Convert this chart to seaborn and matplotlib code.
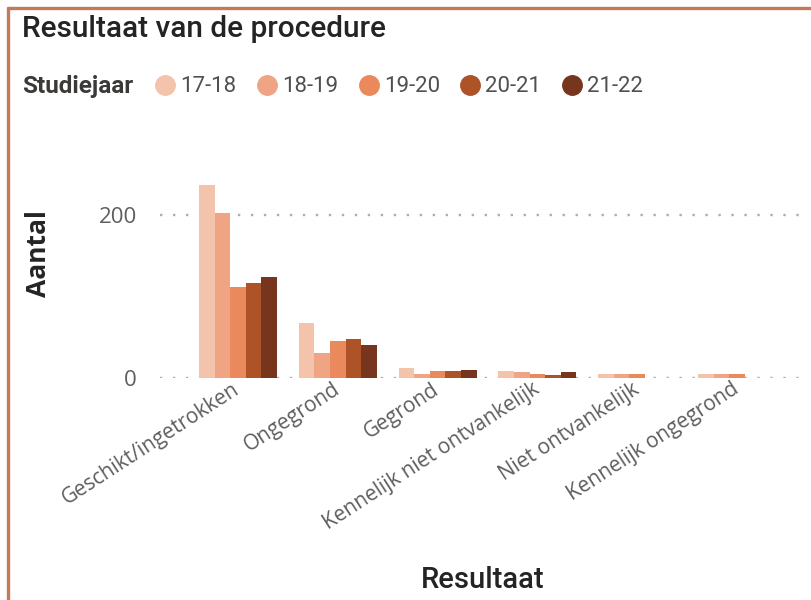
import pandas as pd
import seaborn as sns
import matplotlib.pyplot as plt
import numpy as np
from matplotlib.lines import Line2D

# data
resultaat = ['Geschikt/ingetrokken', 'Ongegrond', 'Gegrond',
             'Kennelijk niet ontvankelijk', 'Niet ontvankelijk', 'Kennelijk ongegrond']
jaren = ['17-18', '18-19', '19-20', '20-21', '21-22']
j1718 = [237, 68, 12, 9, 5, 5]
j1819 = [202, 31, 5, 7, 5, 5]
j1920 = [112, 45, 8, 5, 5, 5]
j2021 = [117, 48, 8, 4, np.nan, np.nan]
j2122 = [124, 41, 10, 7, np.nan, np.nan]
yticks = [0, 200]

kleuren = ['#F4C3AB', '#EFA584', '#E9895C', '#AE5228', '#76351C']

Data = pd.DataFrame({'Resultaat': resultaat * 5,
                     'Studiejaar': np.repeat(jaren, len(resultaat)),
                     'Aantal': j1718 + j1819 + j1920 + j2021 + j2122})
Data = Data.dropna()

sns.set_style('white')
plt.rcParams['font.family'] = ['Open Sans', 'DejaVu Sans']

fig = plt.figure(figsize=(8.11, 6), dpi=100)
ax = fig.add_axes([160 / 811, 1 - 378 / 600, 645 / 811, 248 / 600])

sns.barplot(data=Data, x='Resultaat', y='Aantal', hue='Studiejaar',
            order=resultaat, hue_order=jaren, palette=kleuren, saturation=1,
            width=0.78, gap=0, linewidth=0, errorbar=None, legend=False, ax=ax)

ax.set_xlim(-0.78, 5.68)
ax.set_ylim(0, 248 / 0.815)
ax.set_yticks(yticks)
ax.set_axisbelow(True)
ax.grid(axis='y', color='#B0AEAC', linestyle=(0, (1, 4.5)), linewidth=1.7)
ax.grid(axis='x', visible=False)
for s in ax.spines.values():
    s.set_visible(False)
ax.tick_params(axis='both', length=0)
ax.tick_params(axis='y', labelsize=16, labelcolor='#605E5C', pad=16.5)
ax.tick_params(axis='x', labelsize=15, labelcolor='#605E5C', pad=7)
plt.setp(ax.get_xticklabels(), rotation=33, ha='right', va='center', rotation_mode='anchor')

ax.set_ylabel('Aantal', fontsize=19, fontweight='bold', color='#252423', va='center')
ax.yaxis.set_label_coords(-(160 - 38) / 645, 0.5, transform=ax.transAxes)
ax.set_xlabel('Resultaat', fontsize=21, fontweight='medium', color='#252423',
              family=['Roboto', 'DejaVu Sans'])
ax.xaxis.set_label_coords(0.5, (378 - 580) / 248, transform=ax.transAxes)
ax.xaxis.label.set_va('center')

fig.text(22 / 811, 1 - 29 / 600, 'Resultaat van de procedure', fontsize=21.5,
         fontweight='medium', color='#252423', va='center', family=['Roboto', 'DejaVu Sans'])
fig.text(22 / 811, 1 - 87 / 600, 'Studiejaar', fontsize=17.5, fontweight='bold',
         color='#3B3A39', va='center', family=['Roboto', 'DejaVu Sans'])

handles = [Line2D([], [], marker='o', linestyle='', markersize=14, color=k) for k in kleuren]
leg = fig.legend(handles, jaren, loc='center left', bbox_to_anchor=(156 / 811, 1 - 87 / 600),
                 ncol=5, frameon=False, handlelength=0.85, handletextpad=0.25,
                 columnspacing=0.95, borderpad=0, borderaxespad=0,
                 prop={'family': ['Roboto', 'DejaVu Sans'], 'size': 16})
for t in leg.get_texts():
    t.set_color('#505050')

# card border
fig.add_artist(Line2D([7.5 / 811, 1], [1 - 7.5 / 600, 1 - 7.5 / 600], color='#C47A5A', linewidth=2.4))
fig.add_artist(Line2D([7.5 / 811, 7.5 / 811], [0, 1 - 7.5 / 600], color='#C47A5A', linewidth=2.4))

plt.savefig('out.png', dpi=100)
